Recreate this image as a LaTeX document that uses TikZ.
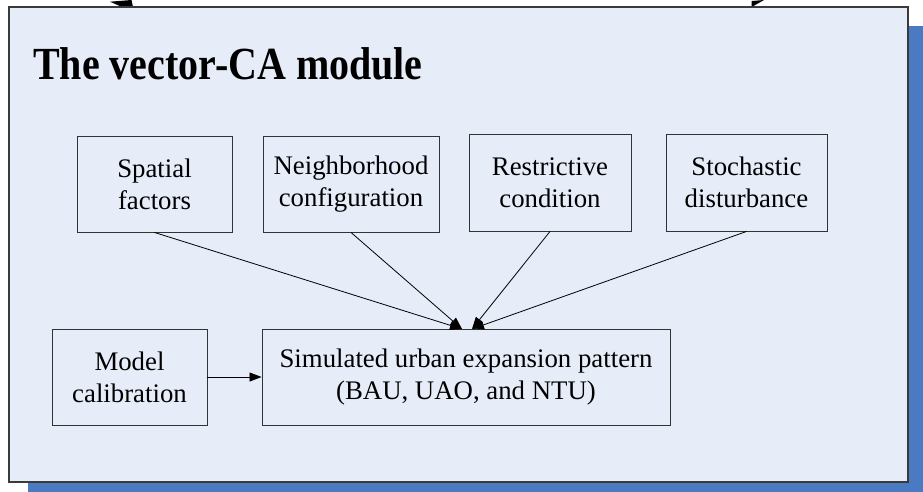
\documentclass[tikz,border=0pt]{standalone}
\usepackage{fontspec}
\setmainfont{Liberation Serif}
\usetikzlibrary{arrows.meta}
\definecolor{bgblue}{HTML}{E6EDF8}
\definecolor{shadowblue}{HTML}{4A7BC2}
\definecolor{framegray}{HTML}{3A3A3A}
\tikzset{
  box/.style={draw=black!80, line width=0.9pt, fill=none, align=center, inner sep=0pt,
    font=\fontsize{26.8}{32}\selectfont},
  conn/.style={draw=black, line width=0.8pt, -{Triangle[length=12pt,width=9pt]}},
}
\begin{document}
\begin{tikzpicture}[x=1pt,y=-1pt]
\useasboundingbox (0,0) rectangle (923,491);
\clip (0,0) rectangle (923,491);
\fill[white] (0,0) rectangle (923,491);
% partial arrowheads at the top edge
\fill[black] (110,1.7) -- (131.5,0) -- (133,7) -- (122,7) -- cycle;
\fill[black] (751.7,7) -- (751.7,1) -- (764,0) -- cycle;
% shadow and frame
\fill[shadowblue] (28,26) rectangle (927,501);
\draw[draw=framegray, line width=1.2pt, fill=bgblue] (9,7) rectangle (908,482);
% title
\node[anchor=base west, inner sep=0pt] (title) at (33,79)
  {\scalebox{1}[1.15]{\fontsize{40}{40}\selectfont\bfseries The vector-CA module}};
% top row
\node[box, minimum width=155pt, minimum height=96pt] (sp) at (154.5,184) {Spatial\\factors};
\node[box, minimum width=176pt, minimum height=96pt] (nb) at (351,184) {Neighborhood\\configuration};
\node[box, minimum width=162pt, minimum height=97pt] (rc) at (550,182.5) {Restrictive\\condition};
\node[box, minimum width=161pt, minimum height=97pt] (sd) at (746.5,182.5) {Stochastic\\disturbance};
% bottom row
\node[box, minimum width=155pt, minimum height=96pt] (mc) at (129.5,377) {Model\\calibration};
\node[box, minimum width=408pt, minimum height=96pt] (sim) at (466,377) {Simulated urban expansion pattern\\(BAU, UAO, and NTU)};
% connectors
\coordinate (tl) at (462,329);
\coordinate (tr) at (472,329);
\draw[conn] (sp.south) -- (tl);
\draw[conn] (nb.south) -- (tl);
\draw[conn] (rc.south) -- (tr);
\draw[conn] (sd.south) -- (tr);
\draw[conn] (mc.east) -- (sim.west);
\end{tikzpicture}
\end{document}
